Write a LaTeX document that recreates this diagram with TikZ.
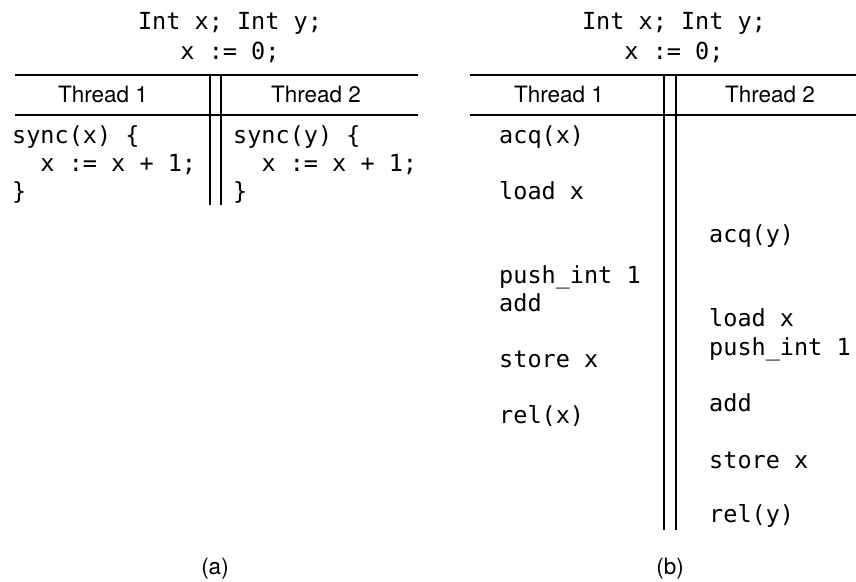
\documentclass[tikz,border=0pt]{standalone}
\usepackage{fontspec}
\setmainfont{TeX Gyre Heros}
\setmonofont{DejaVu Sans Mono}
\tikzset{
  code/.style={font=\ttfamily\fontsize{23.5}{28}\selectfont, anchor=base west, inner sep=0pt},
  mid/.style={font=\ttfamily\fontsize{23.5}{28}\selectfont, anchor=base, inner sep=0pt},
  head/.style={font=\fontsize{22.5}{27}\selectfont, anchor=base, inner sep=0pt},
  rule/.style={line width=1.6pt}
}
\begin{document}
\begin{tikzpicture}[x=1pt, y=-1pt]
\useasboundingbox (0,0) rectangle (856,581);

% (a)
\node[mid] (atop1) at (230,29){Int x; Int y;};
\node[mid] (atop2) at (230,59){x := 0;};

\coordinate (atl) at (15,75);
\coordinate (atr) at (418,75);
\coordinate (aml) at (15,115);
\coordinate (amr) at (418,115);
\coordinate (av1t) at (210,75);
\coordinate (av1b) at (210,205);
\coordinate (av2t) at (221,75);
\coordinate (av2b) at (221,205);

\draw[rule](atl) -- (atr);
\draw[rule](aml) -- (amr);
\draw[rule](av1t) -- (av1b);
\draw[rule](av2t) -- (av2b);

\node[head] (ath1) at (103,102){Thread 1};
\node[head] (ath2) at (316,102){Thread 2};

\node[code] (ac1) at (12,143){sync(x) \{};
\node[code] (ac2) at (12,171){\ \ x := x + 1;};
\node[code] (ac3) at (12,199){\}};
\node[code] (ac4) at (233,143){sync(y) \{};
\node[code] (ac5) at (233,171){\ \ x := x + 1;};
\node[code] (ac6) at (233,199){\}};

\node[head] (alab) at (215,574){(a)};

% (b)
\node[mid] (btop1) at (674,29){Int x; Int y;};
\node[mid] (btop2) at (674,59){x := 0;};

\coordinate (btl) at (470,75);
\coordinate (btr) at (856,75);
\coordinate (bml) at (470,115);
\coordinate (bmr) at (856,115);
\coordinate (bv1t) at (664,75);
\coordinate (bv1b) at (664,530);
\coordinate (bv2t) at (676,75);
\coordinate (bv2b) at (676,530);

\draw[rule](btl) -- (btr);
\draw[rule](bml) -- (bmr);
\draw[rule](bv1t) -- (bv1b);
\draw[rule](bv2t) -- (bv2b);

\node[head] (bth1) at (559,102){Thread 1};
\node[head] (bth2) at (770,102){Thread 2};

\node[code] (bl1) at (499,143){acq(x)};
\node[code] (bl2) at (499,199){load x};
\node[code] (bl3) at (499,283){push\_int 1};
\node[code] (bl4) at (499,311){add};
\node[code] (bl5) at (499,367){store x};
\node[code] (bl6) at (499,423){rel(x)};

\node[code] (br1) at (709,242){acq(y)};
\node[code] (br2) at (709,326){load x};
\node[code] (br3) at (709,355){push\_int 1};
\node[code] (br4) at (709,411){add};
\node[code] (br5) at (709,468){store x};
\node[code] (br6) at (709,522){rel(y)};

\node[head] (blab) at (670,574){(b)};

\end{tikzpicture}
\end{document}
